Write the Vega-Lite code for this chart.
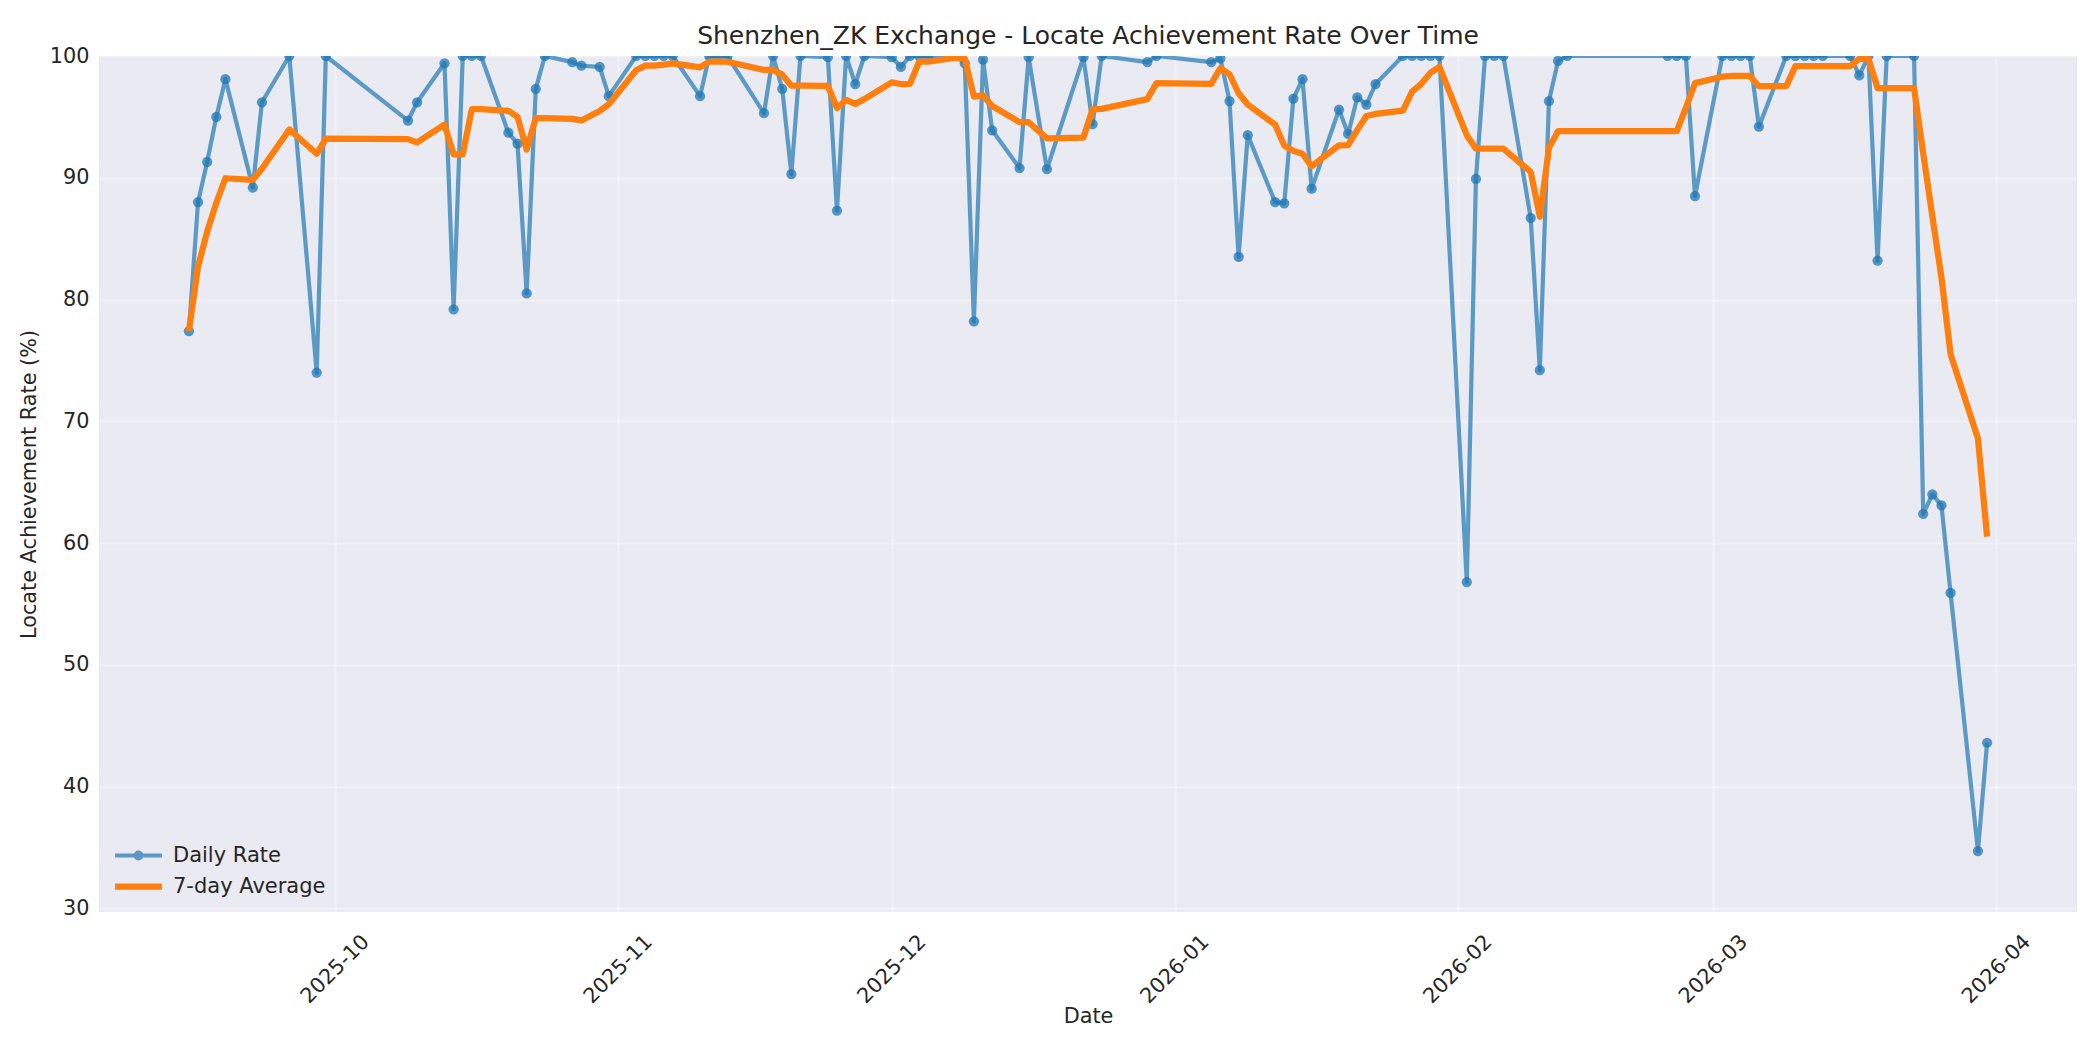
{
  "$schema": "https://vega.github.io/schema/vega-lite/v6.json",
  "description": "Shenzhen_ZK locate achievement rate, daily with 7-day average",
  "width": 1978,
  "height": 856,
  "autosize": {"type": "none"},
  "padding": {"left": 99, "top": 56, "right": 23, "bottom": 138},
  "background": "white",
  "title": {
    "text": "Shenzhen_ZK Exchange - Locate Achievement Rate Over Time",
    "fontSize": 25,
    "fontWeight": "normal",
    "color": "#262626",
    "anchor": "middle",
    "offset": -4
  },
  "data": {
    "values": [
      {"date": "2025-09-15", "daily": 77.4, "avg": 77.4},
      {"date": "2025-09-16", "daily": 88.0, "avg": 82.7},
      {"date": "2025-09-17", "daily": 91.3, "avg": 85.57},
      {"date": "2025-09-18", "daily": 95.0, "avg": 87.93},
      {"date": "2025-09-19", "daily": 98.1, "avg": 89.96},
      {"date": "2025-09-22", "daily": 89.2, "avg": 89.83},
      {"date": "2025-09-23", "daily": 96.2, "avg": 90.74},
      {"date": "2025-09-26", "daily": 100, "avg": 93.97},
      {"date": "2025-09-29", "daily": 74.0, "avg": 91.97},
      {"date": "2025-09-30", "daily": 100, "avg": 93.21},
      {"date": "2025-10-09", "daily": 94.7, "avg": 93.17},
      {"date": "2025-10-10", "daily": 96.2, "avg": 92.9},
      {"date": "2025-10-13", "daily": 99.4, "avg": 94.36},
      {"date": "2025-10-14", "daily": 79.2, "avg": 91.93},
      {"date": "2025-10-15", "daily": 100, "avg": 91.93},
      {"date": "2025-10-16", "daily": 100, "avg": 95.64},
      {"date": "2025-10-17", "daily": 100, "avg": 95.64},
      {"date": "2025-10-20", "daily": 93.7, "avg": 95.5},
      {"date": "2025-10-21", "daily": 92.8, "avg": 95.01},
      {"date": "2025-10-22", "daily": 80.5, "avg": 92.31},
      {"date": "2025-10-23", "daily": 97.3, "avg": 94.9},
      {"date": "2025-10-24", "daily": 100, "avg": 94.9},
      {"date": "2025-10-27", "daily": 99.5, "avg": 94.83},
      {"date": "2025-10-28", "daily": 99.2, "avg": 94.71},
      {"date": "2025-10-30", "daily": 99.1, "avg": 95.49},
      {"date": "2025-10-31", "daily": 96.7, "avg": 96.04},
      {"date": "2025-11-03", "daily": 100, "avg": 98.83},
      {"date": "2025-11-04", "daily": 100, "avg": 99.21},
      {"date": "2025-11-05", "daily": 100, "avg": 99.21},
      {"date": "2025-11-06", "daily": 100, "avg": 99.29},
      {"date": "2025-11-07", "daily": 100, "avg": 99.4},
      {"date": "2025-11-10", "daily": 96.7, "avg": 99.06},
      {"date": "2025-11-11", "daily": 100, "avg": 99.53},
      {"date": "2025-11-12", "daily": 100, "avg": 99.53},
      {"date": "2025-11-13", "daily": 100, "avg": 99.53},
      {"date": "2025-11-17", "daily": 95.3, "avg": 98.86},
      {"date": "2025-11-18", "daily": 100, "avg": 98.86},
      {"date": "2025-11-19", "daily": 97.3, "avg": 98.47},
      {"date": "2025-11-20", "daily": 90.3, "avg": 97.56},
      {"date": "2025-11-21", "daily": 100, "avg": 97.56},
      {"date": "2025-11-24", "daily": 99.9, "avg": 97.54},
      {"date": "2025-11-25", "daily": 87.3, "avg": 95.73},
      {"date": "2025-11-26", "daily": 100, "avg": 96.4},
      {"date": "2025-11-27", "daily": 97.7, "avg": 96.07},
      {"date": "2025-11-28", "daily": 100, "avg": 96.46},
      {"date": "2025-12-01", "daily": 99.9, "avg": 97.83},
      {"date": "2025-12-02", "daily": 99.1, "avg": 97.7},
      {"date": "2025-12-03", "daily": 100, "avg": 97.71},
      {"date": "2025-12-04", "daily": 100, "avg": 99.53},
      {"date": "2025-12-05", "daily": 100, "avg": 99.53},
      {"date": "2025-12-08", "daily": 100, "avg": 99.86},
      {"date": "2025-12-09", "daily": 99.4, "avg": 99.77},
      {"date": "2025-12-10", "daily": 78.2, "avg": 96.67},
      {"date": "2025-12-11", "daily": 99.7, "avg": 96.76},
      {"date": "2025-12-12", "daily": 93.9, "avg": 95.89},
      {"date": "2025-12-15", "daily": 90.8, "avg": 94.57},
      {"date": "2025-12-16", "daily": 99.9, "avg": 94.56},
      {"date": "2025-12-18", "daily": 90.7, "avg": 93.23},
      {"date": "2025-12-22", "daily": 99.9, "avg": 93.3},
      {"date": "2025-12-23", "daily": 94.4, "avg": 95.61},
      {"date": "2025-12-24", "daily": 100, "avg": 95.66},
      {"date": "2025-12-29", "daily": 99.5, "avg": 96.46},
      {"date": "2025-12-30", "daily": 100, "avg": 97.77},
      {"date": "2026-01-05", "daily": 99.5, "avg": 97.71},
      {"date": "2026-01-06", "daily": 99.8, "avg": 99.01},
      {"date": "2026-01-07", "daily": 96.3, "avg": 98.5},
      {"date": "2026-01-08", "daily": 83.5, "avg": 96.94},
      {"date": "2026-01-09", "daily": 93.5, "avg": 96.01},
      {"date": "2026-01-12", "daily": 88.0, "avg": 94.37},
      {"date": "2026-01-13", "daily": 87.9, "avg": 92.64},
      {"date": "2026-01-14", "daily": 96.5, "avg": 92.21},
      {"date": "2026-01-15", "daily": 98.1, "avg": 91.97},
      {"date": "2026-01-16", "daily": 89.1, "avg": 90.94},
      {"date": "2026-01-19", "daily": 95.6, "avg": 92.67},
      {"date": "2026-01-20", "daily": 93.6, "avg": 92.69},
      {"date": "2026-01-21", "daily": 96.6, "avg": 93.91},
      {"date": "2026-01-22", "daily": 96.0, "avg": 95.07},
      {"date": "2026-01-23", "daily": 97.7, "avg": 95.24},
      {"date": "2026-01-26", "daily": 100, "avg": 95.51},
      {"date": "2026-01-27", "daily": 100, "avg": 97.07},
      {"date": "2026-01-28", "daily": 100, "avg": 97.7},
      {"date": "2026-01-29", "daily": 100, "avg": 98.61},
      {"date": "2026-01-30", "daily": 100, "avg": 99.1},
      {"date": "2026-02-02", "daily": 56.8, "avg": 93.5},
      {"date": "2026-02-03", "daily": 89.9, "avg": 92.39},
      {"date": "2026-02-04", "daily": 100, "avg": 92.39},
      {"date": "2026-02-05", "daily": 100, "avg": 92.39},
      {"date": "2026-02-06", "daily": 100, "avg": 92.39},
      {"date": "2026-02-09", "daily": 86.7, "avg": 90.49},
      {"date": "2026-02-10", "daily": 74.2, "avg": 86.8},
      {"date": "2026-02-11", "daily": 96.3, "avg": 92.44},
      {"date": "2026-02-12", "daily": 99.6, "avg": 93.83},
      {"date": "2026-02-13", "daily": 100, "avg": 93.83},
      {"date": "2026-02-24", "daily": 100, "avg": 93.83},
      {"date": "2026-02-25", "daily": 100, "avg": 93.83},
      {"date": "2026-02-26", "daily": 100, "avg": 95.73},
      {"date": "2026-02-27", "daily": 88.5, "avg": 97.77},
      {"date": "2026-03-02", "daily": 100, "avg": 98.3},
      {"date": "2026-03-03", "daily": 100, "avg": 98.36},
      {"date": "2026-03-04", "daily": 100, "avg": 98.36},
      {"date": "2026-03-05", "daily": 100, "avg": 98.36},
      {"date": "2026-03-06", "daily": 94.2, "avg": 97.53},
      {"date": "2026-03-09", "daily": 100, "avg": 97.53},
      {"date": "2026-03-10", "daily": 100, "avg": 99.17},
      {"date": "2026-03-11", "daily": 100, "avg": 99.17},
      {"date": "2026-03-12", "daily": 100, "avg": 99.17},
      {"date": "2026-03-13", "daily": 100, "avg": 99.17},
      {"date": "2026-03-16", "daily": 100, "avg": 99.17},
      {"date": "2026-03-17", "daily": 98.4, "avg": 99.77},
      {"date": "2026-03-18", "daily": 100, "avg": 99.77},
      {"date": "2026-03-19", "daily": 83.2, "avg": 97.37},
      {"date": "2026-03-20", "daily": 100, "avg": 97.37},
      {"date": "2026-03-23", "daily": 100, "avg": 97.37},
      {"date": "2026-03-24", "daily": 62.4, "avg": 92.0},
      {"date": "2026-03-25", "daily": 64.0, "avg": 86.86},
      {"date": "2026-03-26", "daily": 63.1, "avg": 81.81},
      {"date": "2026-03-27", "daily": 55.9, "avg": 75.51},
      {"date": "2026-03-30", "daily": 34.7, "avg": 68.59},
      {"date": "2026-03-31", "daily": 43.6, "avg": 60.53}
    ]
  },
  "encoding": {
    "x": {
      "field": "date",
      "type": "temporal",
      "title": "Date",
      "scale": {
        "type": "utc",
        "domain": [
          {"year": 2025, "month": "sep", "date": 5, "hours": 3, "minutes": 36, "utc": true},
          {"year": 2026, "month": "apr", "date": 9, "hours": 20, "minutes": 24, "utc": true}
        ]
      },
      "axis": {
        "format": "%Y-%m",
        "values": [
          {"year": 2025, "month": "oct", "date": 1, "utc": true},
          {"year": 2025, "month": "nov", "date": 1, "utc": true},
          {"year": 2025, "month": "dec", "date": 1, "utc": true},
          {"year": 2026, "month": "jan", "date": 1, "utc": true},
          {"year": 2026, "month": "feb", "date": 1, "utc": true},
          {"year": 2026, "month": "mar", "date": 1, "utc": true},
          {"year": 2026, "month": "apr", "date": 1, "utc": true}
        ],
        "labelAngle": -45,
        "labelAlign": "center",
        "labelBaseline": "middle",
        "labelPadding": 57,
        "titleY": 104,
        "titleBaseline": "middle"
      }
    },
    "color": {
      "datum": "Daily Rate",
      "type": "nominal",
      "scale": {"domain": ["Daily Rate", "7-day Average"], "range": ["#1f77b4", "#ff7f0e"]},
      "legend": {
        "title": null,
        "orient": "none",
        "legendX": 29,
        "legendY": 789,
        "padding": 0,
        "symbolSize": 550,
        "labelOffset": 24,
        "rowPadding": 7,
        "labelFontSize": 21,
        "labelColor": "#262626",
        "encode": {
          "symbols": {
            "update": {
              "shape": {"signal": "datum.value === 'Daily Rate' ? 'M-2,0H2M-0.24,0A0.24,0.24 0 1,0 0.24,0A0.24,0.24 0 1,0 -0.24,0' : 'M-2,0H2'"},
              "strokeWidth": {"signal": "datum.value === 'Daily Rate' ? 4.2 : 6.25"},
              "opacity": {"signal": "datum.value === 'Daily Rate' ? 0.7 : 1"},
              "fill": {"signal": "datum.value === 'Daily Rate' ? '#1f77b4' : 'transparent'"},
              "stroke": {"signal": "datum.value === 'Daily Rate' ? '#1f77b4' : '#ff7f0e'"}
            }
          }
        }
      }
    }
  },
  "layer": [
    {
      "mark": {"type": "line", "strokeWidth": 4.2, "opacity": 0.7, "strokeJoin": "round", "clip": true},
      "encoding": {
        "y": {
          "field": "daily",
          "type": "quantitative",
          "title": "Locate Achievement Rate (%)",
          "scale": {"domain": [29.7, 100], "nice": false, "zero": false},
          "axis": {"values": [30, 40, 50, 60, 70, 80, 90, 100], "labelPadding": 10, "titleX": -60}
        }
      }
    },
    {
      "mark": {"type": "point", "filled": true, "size": 105, "opacity": 0.75, "clip": true},
      "encoding": {
        "y": {"field": "daily", "type": "quantitative"}
      }
    },
    {
      "mark": {"type": "line", "strokeWidth": 6.25, "strokeJoin": "round", "clip": true},
      "encoding": {
        "y": {"field": "avg", "type": "quantitative"},
        "color": {"datum": "7-day Average", "type": "nominal"}
      }
    }
  ],
  "config": {
    "font": "DejaVu Sans",
    "view": {"fill": "#EAEAF2", "stroke": null},
    "axis": {
      "domain": false,
      "ticks": false,
      "tickSize": 0,
      "grid": true,
      "gridColor": "#ffffff",
      "gridOpacity": 0.35,
      "gridWidth": 2.1,
      "labelFont": "DejaVu Sans",
      "labelFontSize": 20.8,
      "labelColor": "#262626",
      "titleFont": "DejaVu Sans",
      "titleFontSize": 20.8,
      "titleFontWeight": "normal",
      "titleColor": "#262626"
    },
    "legend": {"labelFont": "DejaVu Sans"}
  }
}
